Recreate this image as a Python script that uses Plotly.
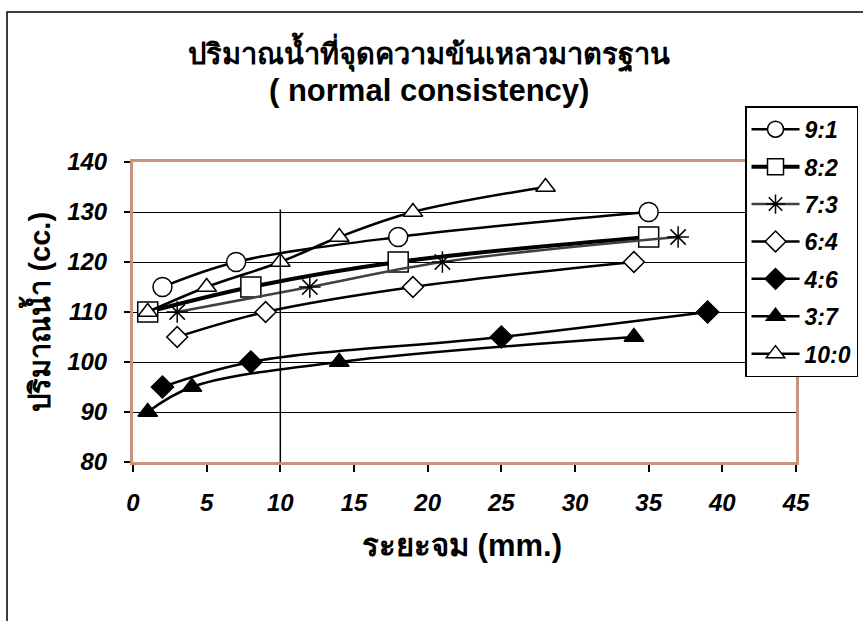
import plotly.graph_objects as go

# Penetration depth (mm) and water volume (cc) for each mix ratio
x_91 = [2, 7, 18, 35]
y_91 = [115, 120, 125, 130]

x_82 = [1, 8, 18, 35]
y_82 = [110, 115, 120, 125]

x_73 = [3, 12, 21, 37]
y_73 = [110, 115, 120, 125]

x_64 = [3, 9, 19, 34]
y_64 = [105, 110, 115, 120]

x_46 = [2, 8, 25, 39]
y_46 = [95, 100, 105, 110]

x_37 = [1, 4, 14, 34]
y_37 = [90, 95, 100, 105]

x_100 = [1, 5, 10, 14, 19, 28]
y_100 = [110, 115, 120, 125, 130, 135]

x_ticks = [0, 5, 10, 15, 20, 25, 30, 35, 40, 45]
y_ticks = [80, 90, 100, 110, 120, 130, 140]

# reference line drawn at 10 mm
ref_x = 10
ref_y_top = 130.5

FONT = "Liberation Sans, Arial, sans-serif"
BROWN = "#C8937C"

series = [
    ("9:1", x_91, y_91, "circle", "white", "black", 2.5, 19),
    ("8:2", x_82, y_82, "square", "white", "black", 4, 20),
    ("7:3", x_73, y_73, "asterisk-open", "black", "#404040", 2.5, 18),
    ("6:4", x_64, y_64, "diamond", "white", "black", 2.5, 16),
    ("4:6", x_46, y_46, "diamond", "black", "black", 2.5, 17),
    ("3:7", x_37, y_37, "triangle-up", "black", "black", 2.5, 17),
    ("10:0", x_100, y_100, "triangle-up", "white", "black", 2.5, 17),
]

fig = go.Figure()
for i, (name, xs, ys, sym, fill, lc, lw, ms) in enumerate(series):
    fig.add_trace(go.Scatter(
        x=xs, y=ys, name=name, mode="lines+markers",
        line=dict(color=lc, width=lw, shape="spline", smoothing=1.0),
        marker=dict(symbol=sym, size=ms, color=fill,
                    line=dict(color="black", width=1.5)),
        legendgroup=f"g{i}",
    ))

# vertical reference line
fig.add_shape(type="line", xref="x", yref="y",
              x0=ref_x, x1=ref_x, y0=y_ticks[0], y1=ref_y_top,
              line=dict(color="black", width=1.5))

# outer chart frame (runs past the right and bottom edges)
fig.add_shape(type="rect", xref="paper", yref="paper",
              x0=-0.19, x1=1.3, y0=-0.8, y1=1.5,
              line=dict(color="black", width=1.5), layer="below")

fig.add_annotation(text="<b>ปริมาณน้ำที่จุดความข้นเหลวมาตรฐาน</b>",
                   xref="paper", yref="paper", x=0.4467, y=1.366,
                   showarrow=False, font=dict(family=FONT, size=29, color="black"),
                   xanchor="center", yanchor="middle")
fig.add_annotation(text="<b>( normal consistency)</b>",
                   xref="paper", yref="paper", x=0.4467, y=1.239,
                   showarrow=False, font=dict(family=FONT, size=31, color="black"),
                   xanchor="center", yanchor="middle")
fig.add_annotation(text="<b>ระยะจม (mm.)</b>",
                   xref="paper", yref="paper", x=0.4965, y=-0.2777,
                   showarrow=False, font=dict(family=FONT, size=31, color="black"),
                   xanchor="center", yanchor="middle")
fig.add_annotation(text="<b>ปริมาณน้ำ (cc.)</b>",
                   xref="paper", yref="paper", x=-0.1443, y=0.5023,
                   showarrow=False, textangle=-90,
                   font=dict(family=FONT, size=29, color="black"),
                   xanchor="center", yanchor="middle")

fig.update_xaxes(
    range=[0, 45], tickvals=x_ticks, ticktext=[f"<b><i>{v}</i></b>" for v in x_ticks],
    showgrid=False, zeroline=False,
    showline=True, linecolor=BROWN, linewidth=3, mirror=True,
    ticks="outside", ticklen=7, tickcolor="black", tickwidth=1.5,
    ticklabelstandoff=10,
    tickfont=dict(family=FONT, size=24, color="black"),
)
fig.update_yaxes(
    range=[80, 140], tickvals=y_ticks, ticktext=[f"<b><i>{v}</i></b>" for v in y_ticks],
    showgrid=True, gridcolor="black", gridwidth=1, zeroline=False,
    showline=True, linecolor=BROWN, linewidth=3, mirror=True,
    ticks="outside", ticklen=6, tickcolor="black", tickwidth=1.5,
    ticklabelstandoff=12,
    tickfont=dict(family=FONT, size=24, color="black"),
)

fig.update_layout(
    width=863, height=621,
    margin=dict(l=133, r=67, t=162, b=159, autoexpand=False),
    paper_bgcolor="white", plot_bgcolor="white",
    font=dict(family=FONT, color="black"),
    legend=dict(
        x=0.9231, y=1.1857, xanchor="left", yanchor="top",
        bgcolor="white", bordercolor="black", borderwidth=1.5,
        font=dict(family=FONT, size=23, color="black", style="italic", weight="bold"),
        itemwidth=48, tracegroupgap=4.5, traceorder="grouped",
    ),
    showlegend=True,
)

fig.write_html("out.html")
